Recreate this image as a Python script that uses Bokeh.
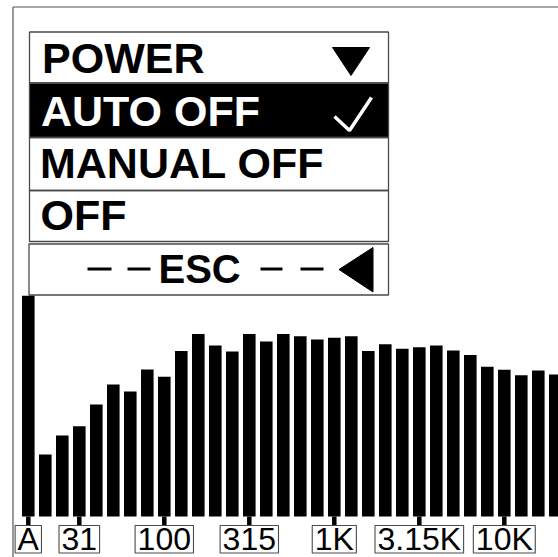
from bokeh.plotting import figure
from bokeh.models import Range1d
from bokeh.core.properties import value
from bokeh.embed import file_html
from bokeh.resources import INLINE

# ---------------- data ----------------
bands = ["A", "20", "25", "31.5", "40", "50", "63", "80", "100", "125", "160",
         "200", "250", "315", "400", "500", "630", "800", "1K", "1.25K", "1.6K",
         "2K", "2.5K", "3.15K", "4K", "5K", "6.3K", "8K", "10K", "12.5K", "16K", "20K"]
levels_db = [93.6, 40.7, 47.0, 50.1, 57.3, 64.0, 61.7, 69.0, 66.6, 75.2, 80.8,
             77.0, 75.0, 80.8, 78.3, 80.8, 80.1, 79.0, 79.6, 80.1, 75.2,
             77.4, 75.9, 76.4, 77.0, 75.3, 73.8, 69.9, 68.9, 67.1, 68.7, 67.3]
tick_bands = ["A", "31.5", "100", "315", "1K", "3.15K", "10K"]
tick_labels = ["A", "31", "100", "315", "1K", "3.15K", "10K"]
menu_items = ["POWER", "AUTO OFF", "MANUAL OFF", "OFF"]
esc_label = "ESC"
FLOOR_DB = 20.0

# ---------------- layout ----------------
W, H = 558, 557
p = figure(width=W, height=H, output_backend="svg", toolbar_location=None,
           x_range=Range1d(-1.635, 31.188), y_range=Range1d(6.333, 192.0),
           x_axis_location=None, y_axis_location=None, min_border=0,
           outline_line_color=None, background_fill_color="white",
           border_fill_color="white",
           styles={"position": "absolute", "left": "0px", "top": "0px"})
p.xgrid.visible = False
p.ygrid.visible = False
p.extra_x_ranges = {"px": Range1d(0, W)}
p.extra_y_ranges = {"px": Range1d(H, 0)}
PX = dict(x_range_name="px", y_range_name="px")

FONT = value("Liberation Sans")
GRAY = "#4a4a4a"
SHIFT = 0.39  # renderer's baseline offset (in em) to compensate


def base(y, fs):
    return y - SHIFT * fs


# outer frame lines
p.segment(x0=[12.5, 12.5], y0=[6.5, 6.5], x1=[12.5, W], y1=[H, 6.5],
          line_color="#555555", line_width=1.2, **PX)

# menu rows
p.quad(left=[29], right=[388], top=[83], bottom=[137], fill_color="black",
       line_color=None, **PX)
p.quad(left=[29, 29, 29, 29, 28.5], right=[388, 388, 388, 388, 388],
       top=[31.5, 82.5, 137, 190, 243.5], bottom=[82.5, 137, 190, 241, 294.5],
       fill_color=None, line_color=GRAY, line_width=1.3, **PX)

MFS = 43
menu_x = [41.5, 40.5, 39.5, 40]
menu_y = [base(v, MFS) for v in [74, 127, 179, 231]]
menu_col = ["black", "white", "black", "black"]
p.text(x=menu_x, y=menu_y, text=menu_items, text_color=menu_col,
       text_font=FONT, text_font_style="bold", text_font_size=f"{MFS}px",
       text_baseline="alphabetic", text_align="left", **PX)

# down triangle and check mark
p.patch(x=[332, 369, 350.5], y=[47, 47, 75], fill_color="black", line_color="black", **PX)
p.line(x=[334, 349, 371], y=[116, 130, 97], line_color="white", line_width=3.5, **PX)

# ESC row
EFS = 40
p.segment(x0=[87, 127, 260, 300], x1=[111, 150, 282, 323], y0=[268.5] * 4, y1=[268.5] * 4,
          line_color="black", line_width=3, **PX)
p.text(x=[158], y=[base(284, EFS)], text=[esc_label], text_font=FONT, text_font_style="bold",
       text_font_size=f"{EFS}px", text_baseline="alphabetic", text_align="left", **PX)
p.patch(x=[338.5, 372.5, 372.5], y=[269, 247, 291.5], fill_color="black", line_color="black", **PX)

# ---------------- bars ----------------
idx = list(range(len(bands)))
p.vbar(x=idx, top=levels_db, bottom=FLOOR_DB, width=0.74, fill_color="black",
       line_color=None)

# ---------------- tick labels ----------------
tick_idx = [bands.index(b) for b in tick_bands]
adv = {"A": 0.667, "K": 0.667, ".": 0.278}
fs = 32
box_w = [sum(adv.get(ch, 0.556) for ch in t) * fs + 5 for t in tick_labels]
p.segment(x0=tick_idx, x1=tick_idx, y0=[516] * len(tick_idx), y1=[525] * len(tick_idx),
          line_color="black", line_width=4.5, y_range_name="px")
p.rect(x=tick_idx, y=[538.8] * len(tick_idx), width=box_w, height=27.5,
       width_units="screen", height_units="screen", fill_color="white",
       line_color=GRAY, line_width=1.1, y_range_name="px")
p.text(x=tick_idx, y=[base(550.5, fs)] * len(tick_idx), text=tick_labels, text_font=FONT,
       text_font_size=f"{fs}px", text_align="center", text_baseline="alphabetic",
       text_color="black", y_range_name="px")

open("out.html", "w").write(file_html(p, INLINE))
